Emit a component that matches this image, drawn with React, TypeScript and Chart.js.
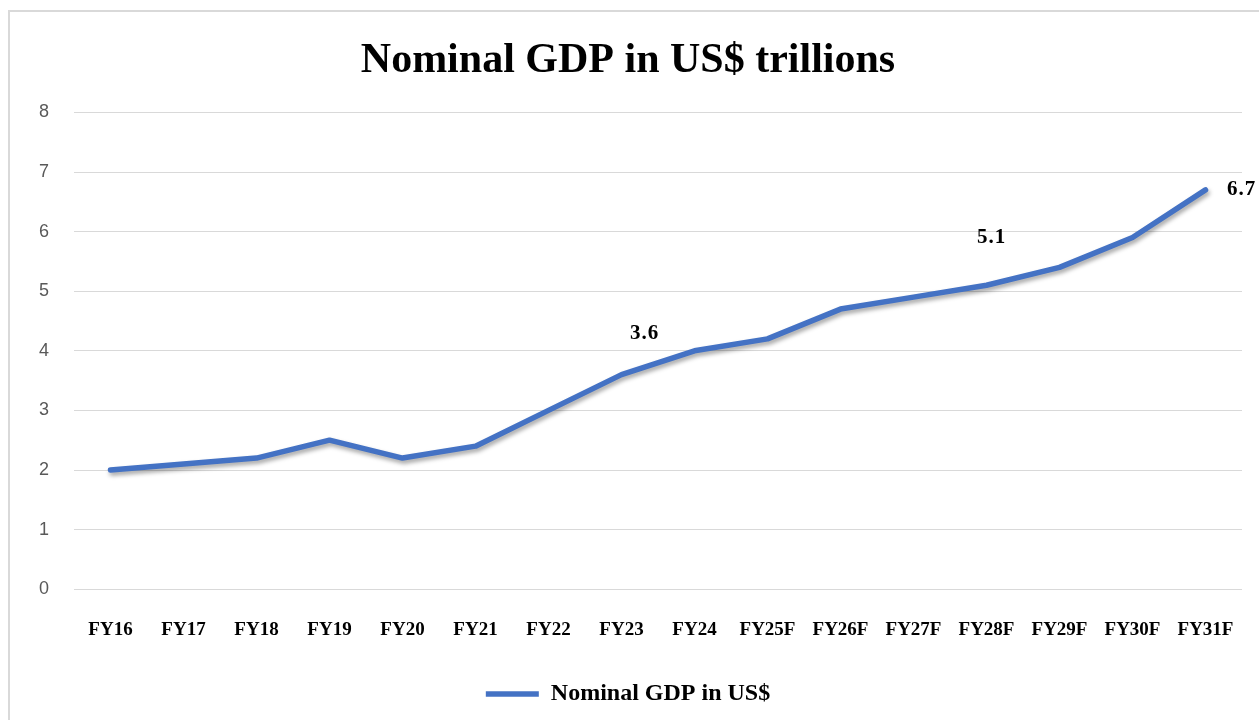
import React, { useEffect, useRef } from "react";
import { Chart, registerables } from "chart.js";

Chart.register(...registerables);

const categories = [
  "FY16", "FY17", "FY18", "FY19", "FY20", "FY21", "FY22", "FY23", "FY24",
  "FY25F", "FY26F", "FY27F", "FY28F", "FY29F", "FY30F", "FY31F",
];
const gdpValues = [2.0, 2.1, 2.2, 2.5, 2.2, 2.4, 3.0, 3.6, 4.0, 4.2, 4.7, 4.9, 5.1, 5.4, 5.9, 6.7];
const seriesName = "Nominal GDP in US$";
const chartTitle = "Nominal GDP in US$ trillions";
const yMin = 0;
const yMax = 8;
const yStep = 1;
const labeledIndices = [7, 12, 15];

// label placement relative to the point (layout only)
const labelOffsets: Record<number, [number, number]> = {
  7: [23, -41],
  12: [5, -48],
  15: [36, 0],
};

const LINE_COLOR = "#4472C4";

const shadowPlugin = {
  id: "lineShadow",
  beforeDatasetDraw(chart: any) {
    const ctx = chart.ctx;
    ctx.save();
    ctx.shadowColor = "rgba(0,0,0,0.35)";
    ctx.shadowBlur = 4;
    ctx.shadowOffsetX = 1.5;
    ctx.shadowOffsetY = 3;
  },
  afterDatasetDraw(chart: any) {
    chart.ctx.restore();
  },
};

const valueLabelPlugin = {
  id: "valueLabels",
  afterDatasetsDraw(chart: any) {
    const ctx = chart.ctx;
    const meta = chart.getDatasetMeta(0);
    const data = chart.data.datasets[0].data as number[];
    ctx.save();
    ctx.font = "bold 21px 'Liberation Serif', serif";
    try { (ctx as any).letterSpacing = "1px"; } catch (e) {}
    ctx.fillStyle = "#000000";
    ctx.textAlign = "center";
    ctx.textBaseline = "middle";
    labeledIndices.forEach((i) => {
      const pt = meta.data[i];
      if (!pt) return;
      const [dx, dy] = labelOffsets[i] || [0, -40];
      ctx.fillText(data[i].toFixed(1), pt.x + dx, pt.y + dy);
    });
    ctx.restore();
  },
};

export default function App() {
  const canvasRef = useRef<HTMLCanvasElement | null>(null);

  useEffect(() => {
    if (!canvasRef.current) return;
    const chart = new Chart(canvasRef.current, {
      type: "line",
      data: {
        labels: categories,
        datasets: [
          {
            label: seriesName,
            data: gdpValues,
            borderColor: LINE_COLOR,
            backgroundColor: LINE_COLOR,
            borderWidth: 5.5,
            borderCapStyle: "round",
            borderJoinStyle: "round",
            pointRadius: 0,
            pointHoverRadius: 0,
            tension: 0,
            fill: false,
          },
        ],
      },
      options: {
        responsive: false,
        animation: false,
        layout: { padding: { left: 4, right: 28, top: 0, bottom: 4 } },
        plugins: {
          title: {
            display: true,
            text: chartTitle,
            color: "#000000",
            font: { family: "'Liberation Serif', serif", size: 42, weight: "bold" },
            padding: { top: 24, bottom: 26 },
          },
          legend: {
            display: true,
            position: "bottom",
            labels: {
              usePointStyle: true,
              pointStyle: "line",
              pointStyleWidth: 53,
              color: "#000000",
              font: { family: "'Liberation Serif', serif", size: 24, weight: "bold" },
              padding: 12,
            },
          },
          tooltip: { enabled: false },
        },
        scales: {
          x: {
            offset: true,
            grid: { display: false, drawTicks: false },
            border: { display: false },
            ticks: {
              autoSkip: false,
              maxRotation: 0,
              minRotation: 0,
              padding: 29,
              color: "#000000",
              font: { family: "'Liberation Serif', serif", size: 19, weight: "bold" },
            },
          },
          y: {
            min: yMin,
            max: yMax,
            grid: { color: "#d9d9d9", lineWidth: 1, drawTicks: false },
            border: { display: false },
            ticks: {
              stepSize: yStep,
              padding: 25,
              color: "#595959",
              font: { family: "'Liberation Sans', sans-serif", size: 18 },
            },
          },
        },
      },
      plugins: [shadowPlugin, valueLabelPlugin],
    });
    return () => chart.destroy();
  }, []);

  return (
    <div
      style={{
        position: "fixed",
        left: 0,
        top: 0,
        width: 1259,
        height: 720,
        overflow: "hidden",
        background: "#ffffff",
      }}
    >
      <div
        style={{
          position: "absolute",
          left: 8,
          top: 10,
          width: 1290,
          height: 760,
          border: "2px solid #d9d9d9",
          boxSizing: "border-box",
        }}
      >
        <canvas
          ref={canvasRef}
          width={1260}
          height={708}
          style={{ position: "absolute", left: 0, top: 0, width: 1260, height: 708 }}
        />
      </div>
    </div>
  );
}
